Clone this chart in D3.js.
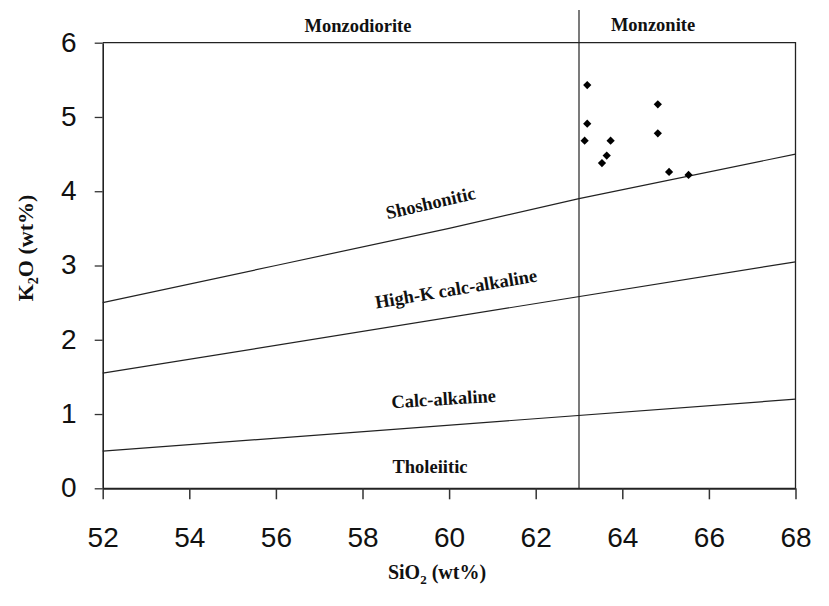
<!DOCTYPE html>
<html>
<head>
<meta charset="utf-8">
<script src="https://cdn.jsdelivr.net/npm/d3@7"></script>
<style>
  body { margin: 0; background: #fff; }
  svg { display: block; }
  .tick text { font-family: "Liberation Sans", Arial, sans-serif; font-size: 28px; fill: #111; }
  .lbl { font-family: "Liberation Serif", "Times New Roman", serif; font-weight: bold; font-size: 18.5px; fill: #111; }
</style>
</head>
<body>
<div id="chart"></div>
<script>
// samples, SiO2 vs K2O
var sio2 = [63.19, 63.19, 63.13, 63.73, 63.64, 63.53, 64.82, 64.82, 65.08, 65.53];
var k2o  = [5.43, 4.91, 4.68, 4.68, 4.48, 4.38, 5.17, 4.78, 4.26, 4.22];

// series boundaries (x, y)
var shoshoniticLine = [[52, 2.5], [56, 3.0], [60, 3.5], [63, 3.9], [68, 4.5]];
var highKLine = [[52, 1.55], [68, 3.05]];
var calcAlkLine = [[52, 0.5], [68, 1.2]];
var monzoniteBoundary = 63;

var xTicks = [52, 54, 56, 58, 60, 62, 64, 66, 68];
var yTicks = [0, 1, 2, 3, 4, 5, 6];

var width = 829, height = 606;
var padL = 102.7, padR = 795.5, padT = 42.7, padB = 488.3;

var svg = d3.select('#chart').append('svg')
    .attr('width', width)
    .attr('height', height);

var x = d3.scaleLinear().domain([52, 68]).range([padL, padR]);
var y = d3.scaleLinear().domain([0, 6]).range([padB, padT]);

// frame top + right
svg.append('path')
    .attr('d', 'M' + padL + ',' + padT + 'H' + padR + 'V' + padB)
    .attr('fill', 'none')
    .attr('stroke', '#222')
    .attr('stroke-width', 1.3);

var xAxis = svg.append('g')
    .attr('transform', 'translate(0,' + padB + ')')
    .call(d3.axisBottom(x).tickValues(xTicks).tickSize(11).tickPadding(28).tickSizeOuter(0));
xAxis.select('.domain').attr('stroke', '#222').attr('stroke-width', 2);
xAxis.selectAll('.tick line').attr('stroke', '#333').attr('stroke-width', 1.5);

var yAxis = svg.append('g')
    .attr('transform', 'translate(' + padL + ',0)')
    .call(d3.axisLeft(y).tickValues(yTicks).tickFormat(d3.format('d')).tickSize(8).tickPadding(18).tickSizeOuter(0));
yAxis.select('.domain').attr('stroke', '#222').attr('stroke-width', 1.6);
yAxis.selectAll('.tick line').attr('stroke', '#333').attr('stroke-width', 1.3);
yAxis.selectAll('.tick text').attr('dy', '0.3em');

// boundary lines
var line = d3.line().x(function(d) { return x(d[0]); }).y(function(d) { return y(d[1]); });
[shoshoniticLine, highKLine, calcAlkLine].forEach(function(pts) {
    svg.append('path')
        .attr('d', line(pts))
        .attr('fill', 'none')
        .attr('stroke', '#222')
        .attr('stroke-width', 1.2);
});

svg.append('line')
    .attr('x1', x(monzoniteBoundary)).attr('x2', x(monzoniteBoundary))
    .attr('y1', 10).attr('y2', padB)
    .attr('stroke', '#222')
    .attr('stroke-width', 1.2);

// points
svg.append('g').selectAll('path')
    .data(sio2)
    .enter()
    .append('path')
    .attr('d', d3.symbol(d3.symbolSquare, 34))
    .attr('transform', function(d, i) {
        return 'translate(' + x(d) + ',' + y(k2o[i]) + ') rotate(45)';
    })
    .attr('fill', '#000');

// labels
function label(txt, cx, cy, angle) {
    svg.append('text')
        .attr('class', 'lbl')
        .attr('text-anchor', 'middle')
        .attr('transform', 'translate(' + cx + ',' + cy + ') rotate(' + (angle || 0) + ')')
        .text(txt);
}
label('Monzodiorite', 358, 32);
label('Monzonite', 653, 31);
label('Shoshonitic', 432, 209, -13);
label('High-K calc-alkaline', 457, 295, -9.5);
label('Calc-alkaline', 444, 405, -3.5);
label('Tholeiitic', 430, 473);

// axis titles
var xt = svg.append('text')
    .attr('class', 'lbl')
    .attr('text-anchor', 'middle')
    .attr('x', 437).attr('y', 579)
    .style('font-size', '20px');
xt.append('tspan').text('SiO');
xt.append('tspan').text('2').attr('dy', 5).style('font-size', '13px');
xt.append('tspan').text(' (wt%)').attr('dy', -5);

var yt = svg.append('text')
    .attr('class', 'lbl')
    .attr('text-anchor', 'middle')
    .attr('transform', 'translate(33,248) rotate(-90)')
    .style('font-size', '22px');
yt.append('tspan').text('K');
yt.append('tspan').text('2').attr('dy', 5).style('font-size', '14px');
yt.append('tspan').text('O (wt%)').attr('dy', -5);
</script>
</body>
</html>
